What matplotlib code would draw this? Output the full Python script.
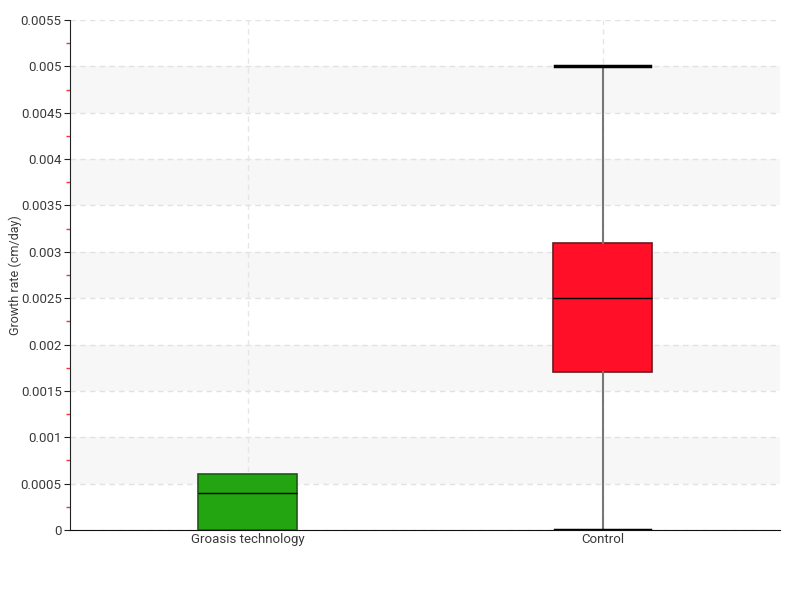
import matplotlib
matplotlib.use("Agg")
import matplotlib.pyplot as plt
import numpy as np

# data
categories = ["Groasis technology", "Control"]
whisker_low = [0.0, 0.0]
q1 = [0.0, 0.0017]
median = [0.0004, 0.0025]
q3 = [0.0006, 0.0031]
whisker_high = [0.0006, 0.005]
box_colors = ["#22a511", "#ff0f28"]
edge_colors = ["#1d5a14", "#6a1a20"]

plt.rcParams['font.family'] = ['Roboto', 'DejaVu Sans']
txt = '#3a3a3a'

fig = plt.figure(figsize=(8, 6), dpi=100)
ax = fig.add_axes([0.0875, 0.1167, 0.8875, 0.85])

# alternating bands
ticks = np.arange(0, 0.0055 + 1e-9, 0.0005)
for lo in np.arange(0.0005, 0.005, 0.001):
    ax.axhspan(lo, lo + 0.0005, color='#f7f7f7', zorder=0, lw=0)
for t in ticks:
    ax.axhline(t, color='#e2e2e2', ls=(0, (4, 3)), lw=1, zorder=0.5)

stats = []
for i, c in enumerate(categories):
    stats.append(dict(label=c, whislo=whisker_low[i], q1=q1[i], med=median[i],
                      q3=q3[i], whishi=whisker_high[i]))

pos = np.arange(len(categories))
for x in pos:
    ax.axvline(x, color='#e6e6e6', ls=(0, (4, 3)), lw=1, zorder=0.5)

bp = ax.bxp(stats, positions=pos, widths=0.28, capwidths=0.265, patch_artist=True,
            showfliers=False,
            whiskerprops=dict(color='#777777', lw=1.5),
            capprops=dict(color='black', lw=2.5),
            medianprops=dict(color='black', lw=1), zorder=3)
for i, b in enumerate(bp['boxes']):
    b.set_facecolor(box_colors[i])
    b.set_edgecolor(edge_colors[i])
    b.set_linewidth(1.2)
bp['caps'][0].set_visible(False)
bp['caps'][1].set_visible(False)
bp['whiskers'][0].set_visible(False)
bp['whiskers'][1].set_visible(False)

ax.set_xlim(-0.5, 1.5)
ax.set_ylim(0, 0.0055)
ax.set_yticks(ticks)
ax.set_yticklabels(['0' if t == 0 else ('%.4f' % t).rstrip('0') for t in ticks])
ax.set_yticks(ticks[:-1] + 0.00025, minor=True)
ax.tick_params(axis='y', which='minor', length=3, color='#ff3030', width=1)
ax.tick_params(axis='y', which='major', length=4, color='#222222', labelsize=9.5, labelcolor=txt, pad=2)
ax.set_xticks(pos)
ax.set_xticklabels(categories)
ax.tick_params(axis='x', length=0, labelsize=9.5, labelcolor=txt, pad=2)
ax.set_ylabel('Growth rate (cm/day)', fontsize=9, color=txt)
ax.yaxis.set_label_coords(-0.068, 0.5)

for s in ['top', 'right']:
    ax.spines[s].set_visible(False)
ax.spines['left'].set_color('#222222')
ax.spines['bottom'].set_color('#111111')

fig.savefig('out.png', dpi=100)
